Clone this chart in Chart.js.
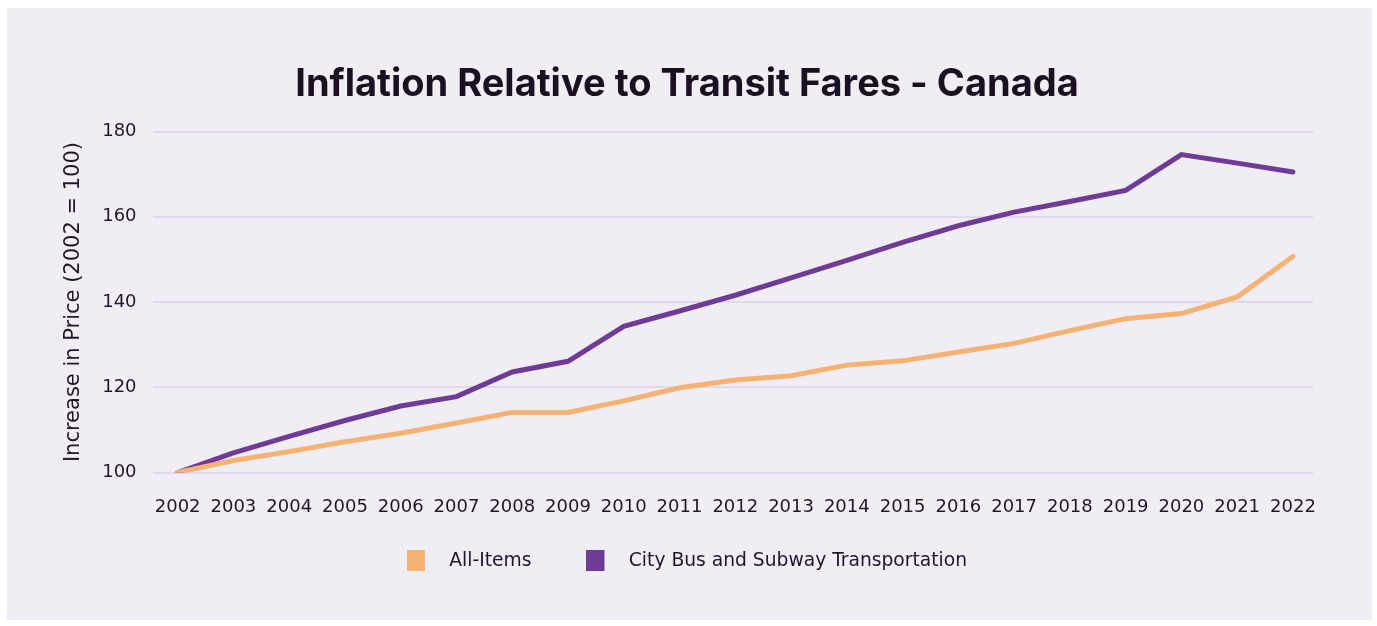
<!DOCTYPE html>
<html>
<head>
<meta charset="utf-8">
<script src="https://cdn.jsdelivr.net/npm/chart.js@4/dist/chart.umd.min.js"></script>
<style>
    html, body { margin: 0; padding: 0; background: #ffffff; }
    #panel {
        position: absolute;
        left: 7px; top: 8px;
        width: 1365px; height: 612px;
        background: #f0edf4;
    }
</style>
</head>
<body>
<div id="panel"><canvas id="inflationChart"></canvas></div>
<script>
// years on the x axis
const years = [2002, 2003, 2004, 2005, 2006, 2007, 2008, 2009, 2010, 2011, 2012,
               2013, 2014, 2015, 2016, 2017, 2018, 2019, 2020, 2021, 2022];

// CPI, 2002 = 100
const allItems = [100, 102.8, 104.9, 107.2, 109.2, 111.6, 114.1, 114.1, 116.8, 119.9, 121.7,
                  122.7, 125.2, 126.2, 128.3, 130.3, 133.3, 136.1, 137.3, 141.2, 150.7];
const cityTransit = [100, 104.6, 108.5, 112.2, 115.6, 117.8, 123.6, 126.1, 134.3, 137.9, 141.6,
                     145.7, 149.8, 154.0, 157.9, 161.1, 163.6, 166.2, 174.6, 172.6, 170.5];

const yTicks = [100, 120, 140, 160, 180];

const ORANGE = '#f6b273';
const PURPLE = '#6e3b96';
const TEXT = '#21162a';
const SMALL_FONT = 'DejaVu Sans';

// legend swatch: 18x21 square at the left of a wider canvas,
// so the label sits further away from it
function swatch(color) {
    const c = document.createElement('canvas');
    c.width = 33;
    c.height = 21;
    const g = c.getContext('2d');
    g.fillStyle = color;
    g.fillRect(0, 0, 18, 21);
    return c;
}

function toPoints(values) {
    return years.map((yr, i) => ({ x: yr, y: values[i] }));
}

document.addEventListener('DOMContentLoaded', function() {
    new Chart(document.getElementById('inflationChart'), {
        type: 'line',
        data: {
            datasets: [
                {
                    label: 'All-Items',
                    data: toPoints(allItems),
                    borderColor: ORANGE,
                    backgroundColor: ORANGE,
                    borderWidth: 5,
                    borderCapStyle: 'round',
                    pointRadius: 0,
                    pointStyle: swatch(ORANGE),
                    tension: 0
                },
                {
                    label: 'City Bus and Subway Transportation',
                    data: toPoints(cityTransit),
                    borderColor: PURPLE,
                    backgroundColor: PURPLE,
                    borderWidth: 5,
                    borderCapStyle: 'round',
                    pointRadius: 0,
                    pointStyle: swatch(PURPLE),
                    tension: 0
                }
            ]
        },
        options: {
            responsive: true,
            maintainAspectRatio: false,
            animation: false,
            layout: {
                padding: { left: 54, right: 59, top: 20, bottom: 40 }
            },
            scales: {
                x: {
                    type: 'linear',
                    min: 2001.55,
                    max: 2022.36,
                    afterBuildTicks: function(axis) {
                        axis.ticks = years.map(v => ({ value: v }));
                    },
                    border: { display: false },
                    // invisible tick marks push the labels down
                    grid: { display: false, drawTicks: true, tickLength: 24 },
                    ticks: {
                        color: TEXT,
                        font: { family: SMALL_FONT, size: 18 },
                        padding: 0,
                        maxRotation: 0,
                        autoSkip: false,
                        callback: v => String(v)
                    }
                },
                y: {
                    min: 100,
                    max: 180,
                    afterBuildTicks: function(axis) {
                        axis.ticks = yTicks.map(v => ({ value: v }));
                    },
                    border: { display: false },
                    grid: { color: '#e2d8ea', lineWidth: 2, drawTicks: false },
                    ticks: {
                        color: TEXT,
                        font: { family: SMALL_FONT, size: 18 },
                        padding: 16
                    },
                    title: {
                        display: true,
                        text: 'Increase in Price (2002 = 100)',
                        color: TEXT,
                        font: { family: SMALL_FONT, size: 21 },
                        padding: { top: 0, bottom: 0 }
                    }
                }
            },
            plugins: {
                title: {
                    display: true,
                    text: 'Inflation Relative to Transit Fares - Canada',
                    color: '#1b0f22',
                    font: { family: 'Inter', size: 38, weight: 700 },
                    padding: { top: 34, bottom: 24 }
                },
                legend: {
                    position: 'bottom',
                    // empty title with negative padding pulls the row up,
                    // so the wide item spacing does not add height
                    title: {
                        display: true,
                        text: '',
                        font: { size: 1 },
                        padding: { top: 0, bottom: -23 }
                    },
                    labels: {
                        usePointStyle: true,
                        pointStyleWidth: 33,
                        color: TEXT,
                        font: { family: SMALL_FONT, size: 18.7 },
                        padding: 55
                    }
                },
                tooltip: { enabled: false }
            }
        }
    });
});
</script>
</body>
</html>
